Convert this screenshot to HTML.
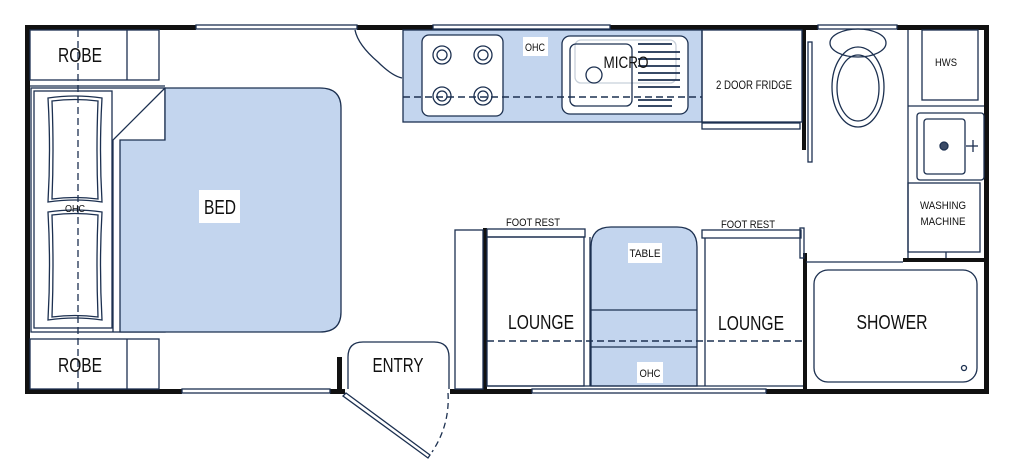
<!DOCTYPE html>
<html><head><meta charset="utf-8"><style>
html,body{margin:0;padding:0;background:#fff;width:1024px;height:474px;overflow:hidden}
svg{display:block}
text{font-family:"Liberation Sans Narrow","Liberation Sans",sans-serif;fill:#111}
</style></head><body>
<svg width="1024" height="474" viewBox="0 0 1024 474" xmlns="http://www.w3.org/2000/svg">
<g fill="none" stroke="#1c3050" stroke-width="1.3">
<g fill="#111" stroke="none">
<rect x="25" y="25" width="171" height="5"/><rect x="357" y="25" width="76" height="5"/><rect x="610" y="25" width="208" height="5"/><rect x="897" y="25" width="92" height="5"/>
<rect x="25" y="25" width="5" height="369"/><rect x="984" y="25" width="5" height="369"/>
<rect x="25" y="389" width="157" height="5"/><rect x="330" y="389" width="15" height="5"/><rect x="450" y="389" width="82" height="5"/><rect x="766" y="389" width="223" height="5"/>
<rect x="337" y="357" width="5" height="35"/>
<rect x="802" y="30" width="4" height="120"/>
<rect x="483" y="228" width="4" height="161"/>
<rect x="803" y="253" width="4" height="137"/>
<rect x="903" y="258" width="81" height="4"/>
</g>
<rect x="196" y="25" width="161" height="4"/><rect x="433" y="25" width="177" height="4"/><rect x="818" y="25" width="79" height="4"/>
<rect x="182" y="389" width="148" height="4"/><rect x="532" y="389" width="234" height="4"/>
<rect x="30" y="30" width="129" height="50"/><line x1="127" y1="30" x2="127" y2="80"/><line x1="30" y1="86" x2="165" y2="86"/>
<rect x="30" y="339" width="129" height="50"/><line x1="127" y1="339" x2="127" y2="389"/>
<rect x="31" y="88" width="134" height="244"/>
<rect x="34" y="91" width="78" height="237"/>
<path d="M48 98 Q75 94 102 98 Q99 150 102 202 Q75 198 48 202 Q51 150 48 98Z"/>
<path d="M52 101 Q75 98 98 101 Q96 150 98 199 Q75 196 52 199 Q54 150 52 101Z"/>
<path d="M48 212 Q75 208 102 212 Q99 265 102 320 Q75 316 48 320 Q51 265 48 212Z"/>
<path d="M52 215 Q75 212 98 215 Q96 265 98 317 Q75 314 52 317 Q54 265 52 215Z"/>
<path d="M120 332 L120 140 L165 140 L165 88 L320 88 Q341 88 341 108 L341 312 Q341 332 320 332Z" fill="#c3d5ee"/>
<path d="M113 332 L113 140 L165 88"/>
<line x1="78" y1="30" x2="78" y2="389" stroke-dasharray="7 4"/>
<path d="M355 30 Q358 45 378 62 Q392 76 402 78"/>
<rect x="403" y="30" width="299" height="92" fill="#c3d5ee"/>
<rect x="422" y="35" width="81" height="81" rx="7" fill="#fff"/>
<g><circle cx="442" cy="55" r="9"/><circle cx="442" cy="55" r="5"/><circle cx="483" cy="55" r="9"/><circle cx="483" cy="55" r="5"/><circle cx="442" cy="96" r="9"/><circle cx="442" cy="96" r="5"/><circle cx="483" cy="96" r="9"/><circle cx="483" cy="96" r="5"/></g>
<rect x="562" y="36" width="126" height="78" rx="8" fill="#fff"/>
<rect x="575" y="40" width="101" height="43" rx="6" stroke="#c8d0da"/>
<rect x="570" y="44" width="62" height="62" rx="6"/>
<circle cx="594" cy="75" r="8"/>
<g stroke-width="1.8"><line x1="638" y1="44" x2="672" y2="44"/><line x1="638" y1="52" x2="680" y2="52"/><line x1="638" y1="59" x2="680" y2="59"/><line x1="638" y1="66" x2="680" y2="66"/><line x1="638" y1="73" x2="680" y2="73"/><line x1="638" y1="80" x2="680" y2="80"/><line x1="638" y1="87" x2="680" y2="87"/><line x1="638" y1="100" x2="672" y2="100"/><line x1="638" y1="106" x2="672" y2="106"/></g>
<line x1="403" y1="97" x2="702" y2="97" stroke-dasharray="7 4" stroke-width="1.6"/>
<rect x="702" y="30" width="100" height="92"/>
<rect x="702" y="123" width="98" height="6"/>
<rect x="808" y="42" width="4" height="120"/>
<ellipse cx="858" cy="43" rx="28" ry="14"/><ellipse cx="858" cy="87" rx="26" ry="40"/><ellipse cx="858" cy="88" rx="21" ry="33"/>
<line x1="908" y1="30" x2="908" y2="258"/>
<rect x="922" y="30" width="56" height="70"/><line x1="908" y1="106" x2="984" y2="106"/>
<rect x="917" y="113" width="67" height="67" rx="3"/><rect x="924" y="119" width="41" height="55" rx="3"/>
<circle cx="944" cy="146" r="4" fill="#3a4a66"/><line x1="966" y1="146" x2="978" y2="146"/><line x1="973" y1="140" x2="973" y2="152"/>
<rect x="908" y="183" width="72" height="69"/><line x1="946" y1="252" x2="946" y2="258"/>
<line x1="806" y1="262" x2="903" y2="262"/>
<rect x="814" y="270" width="163" height="112" rx="14"/>
<circle cx="964" cy="368" r="2.5"/>
<rect x="455" y="230" width="28" height="159"/>
<rect x="487" y="229" width="98" height="8"/>
<rect x="487" y="237" width="97" height="149"/><line x1="590" y1="237" x2="590" y2="386"/>
<path d="M591 386 L591 247 Q591 227 611 227 L677 227 Q697 227 697 247 L697 386Z" fill="#c3d5ee"/>
<line x1="591" y1="310" x2="697" y2="310"/><line x1="591" y1="347" x2="697" y2="347"/>
<rect x="702" y="230" width="99" height="8"/>
<line x1="705" y1="238" x2="705" y2="386"/>
<rect x="800" y="228" width="4" height="30"/>
<line x1="487" y1="386" x2="803" y2="386"/>
<line x1="487" y1="341" x2="803" y2="341" stroke-dasharray="7 4" stroke-width="1.6"/>
<path d="M348 389 L348 357 Q348 342 363 342 L434 342 Q449 342 449 357 L449 389"/>
<path d="M346 393 L430 455 L428 458 L343 396Z"/>
<path d="M448 393 Q450 425 432 452" stroke-dasharray="6 4"/>
</g>
<g fill="#fff">
<rect x="199" y="190" width="41" height="33"/><rect x="523" y="37" width="25" height="19"/><rect x="628" y="243" width="34" height="20"/><rect x="637" y="362" width="26" height="21"/>
</g>
<g lengthAdjust="spacingAndGlyphs">
<text x="80" y="62" font-size="20" text-anchor="middle" textLength="44" lengthAdjust="spacingAndGlyphs">ROBE</text>
<text x="80" y="372" font-size="20" text-anchor="middle" textLength="44" lengthAdjust="spacingAndGlyphs">ROBE</text>
<text x="220" y="214" font-size="20" text-anchor="middle" textLength="32" lengthAdjust="spacingAndGlyphs">BED</text>
<text x="75" y="212" font-size="10" text-anchor="middle" fill="#8899aa" textLength="20" lengthAdjust="spacingAndGlyphs">OHC</text>
<text x="535" y="51" font-size="11" text-anchor="middle" fill="#2a3a5a" textLength="20" lengthAdjust="spacingAndGlyphs">OHC</text>
<text x="626" y="68" font-size="17" text-anchor="middle" fill="#2a3a5a" textLength="45" lengthAdjust="spacingAndGlyphs">MICRO</text>
<text x="754" y="89" font-size="12" text-anchor="middle" fill="#2a3a5a" textLength="76" lengthAdjust="spacingAndGlyphs">2 DOOR FRIDGE</text>
<text x="946" y="66" font-size="11" text-anchor="middle" fill="#2a3a5a" textLength="22" lengthAdjust="spacingAndGlyphs">HWS</text>
<text x="943" y="209" font-size="11" text-anchor="middle" fill="#2a3a5a" textLength="46" lengthAdjust="spacingAndGlyphs">WASHING</text>
<text x="943" y="225" font-size="11" text-anchor="middle" fill="#2a3a5a" textLength="45" lengthAdjust="spacingAndGlyphs">MACHINE</text>
<text x="892" y="329" font-size="20" text-anchor="middle" textLength="71" lengthAdjust="spacingAndGlyphs">SHOWER</text>
<text x="533" y="226" font-size="11" text-anchor="middle" textLength="54" lengthAdjust="spacingAndGlyphs">FOOT REST</text>
<text x="748" y="228" font-size="11" text-anchor="middle" textLength="54" lengthAdjust="spacingAndGlyphs">FOOT REST</text>
<text x="645" y="257" font-size="11" text-anchor="middle" textLength="31" lengthAdjust="spacingAndGlyphs">TABLE</text>
<text x="650" y="377" font-size="11" text-anchor="middle" textLength="21" lengthAdjust="spacingAndGlyphs">OHC</text>
<text x="541" y="329" font-size="20" text-anchor="middle" textLength="66" lengthAdjust="spacingAndGlyphs">LOUNGE</text>
<text x="751" y="330" font-size="20" text-anchor="middle" textLength="66" lengthAdjust="spacingAndGlyphs">LOUNGE</text>
<text x="398" y="372" font-size="20" text-anchor="middle" textLength="51" lengthAdjust="spacingAndGlyphs">ENTRY</text>
</g>
</svg>
</body></html>
